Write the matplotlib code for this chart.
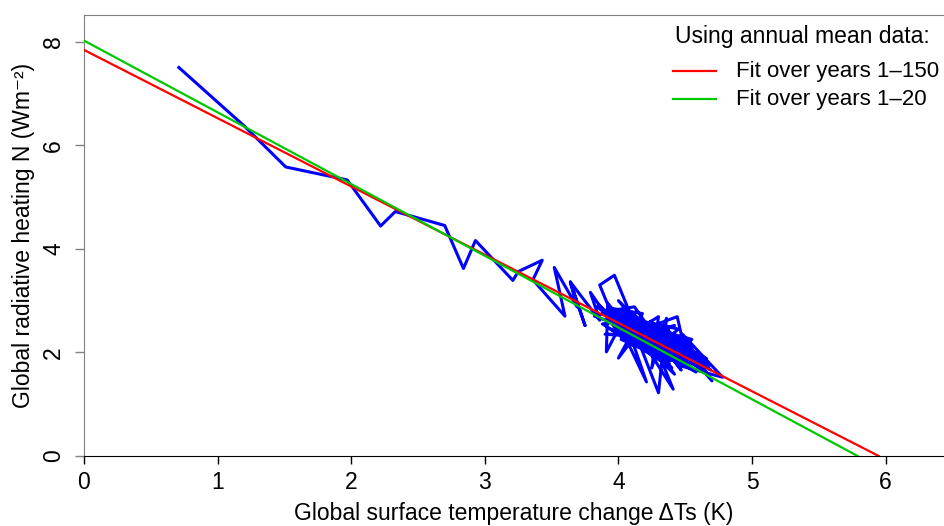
import matplotlib
matplotlib.use("Agg")
import matplotlib.pyplot as plt
from matplotlib.lines import Line2D

plt.rcParams["font.family"] = ["Liberation Sans", "DejaVu Sans"]

# annual mean (dT, N) pairs, years 1..150
temp_change = [
    0.71, 1.20, 1.51, 1.84, 1.97, 2.22, 2.33, 2.70, 2.84, 2.93,
    3.21, 3.25, 3.43, 3.36, 3.60, 3.52, 3.69, 3.64,
    3.75, 3.64, 3.86, 3.79, 4.02, 3.86, 3.97, 4.20, 3.92, 3.91,
    4.08, 3.82, 4.15, 4.00, 4.18, 3.95, 4.21, 4.05, 4.32, 3.88,
    4.12, 4.40, 4.02, 4.30, 4.25, 4.36, 4.30, 4.10, 4.41, 4.22,
    4.44, 4.52, 4.18, 4.47, 4.28, 4.06, 4.50, 4.26, 4.69, 4.40,
    4.62, 4.35, 4.70, 4.48, 4.78, 4.45, 4.15, 4.42, 3.98, 4.25,
    3.85, 4.16, 3.94, 4.38, 4.00, 4.35, 4.05, 4.55, 4.12, 4.46,
    3.96, 4.58, 4.24, 3.90, 4.33, 4.08, 4.52, 3.98, 4.28, 4.60,
    4.14, 3.88, 4.40, 4.02, 4.48, 4.20, 4.64, 4.30, 3.92, 4.42,
    4.10, 4.56, 3.84, 4.26, 4.45, 4.04, 4.60, 4.18, 4.38, 3.96,
    4.32, 4.66, 4.22, 3.94, 4.50, 4.14, 4.62, 4.34, 4.06, 4.55,
    3.90, 4.28, 4.42, 4.12, 4.58, 4.00, 4.36, 4.20, 4.54, 4.10,
    4.46, 4.24, 4.68, 4.32, 4.04, 4.50, 4.16, 4.40, 3.92, 4.26,
    4.56, 4.14, 4.48, 4.34, 4.06, 4.60, 4.24, 4.44, 4.12, 4.52,
    4.30, 4.40,
]
heating = [
    7.50, 6.37, 5.58, 5.40, 5.33, 4.44, 4.72, 4.45, 3.62, 4.16,
    3.39, 3.56, 3.78, 3.40, 2.70, 3.64, 2.88, 3.36,
    2.52, 3.36, 2.62, 3.16, 2.30, 3.30, 3.49, 2.05, 2.95, 2.01,
    2.85, 2.70, 2.40, 1.89, 2.75, 2.85, 1.43, 2.62, 2.10, 2.78,
    2.88, 1.85, 2.25, 2.69, 1.70, 2.66, 1.22, 2.55, 1.29, 2.48,
    2.69, 1.80, 2.62, 1.66, 2.30, 2.80, 2.05, 2.55, 1.66, 2.30,
    1.80, 2.48, 1.45, 2.35, 1.52, 1.75, 2.55, 1.58, 2.68, 1.95,
    2.92, 2.20, 2.45, 1.82, 3.00, 2.10, 2.32, 1.70, 2.72, 1.95,
    2.55, 1.62, 2.40, 2.72, 1.88, 2.60, 2.12, 2.40, 2.00, 1.95,
    2.65, 2.55, 1.70, 2.82, 2.20, 2.12, 1.72, 2.42, 2.62, 1.92,
    2.38, 2.02, 2.88, 2.05, 2.45, 2.68, 1.78, 2.22, 1.78, 2.58,
    2.28, 1.88, 2.50, 2.80, 1.88, 2.42, 1.68, 2.15, 2.60, 2.25,
    2.35, 2.35, 2.52, 2.32, 1.92, 2.78, 1.90, 2.48, 2.20, 2.15,
    1.80, 2.60, 1.75, 2.30, 2.52, 1.95, 2.45, 2.18, 2.70, 2.08,
    2.00, 2.50, 1.85, 2.35, 2.65, 1.88, 2.42, 2.05, 2.38, 2.15,
    2.25, 2.12,
]

# regression fits: intercept and slope of N against dT
fit_labels = ["Fit over years 1\u2013150", "Fit over years 1\u201320"]
fit_intercepts = [7.84, 8.02]
fit_slopes = [-1.318, -1.385]
fit_colors = ["#ff0000", "#00c800"]

fig = plt.figure(figsize=(9.44, 5.26), dpi=100)
ax = fig.add_axes([84 / 944, 70 / 526, 860 / 944, 441 / 526])

ax.plot(temp_change, heating, color="#0000ff", lw=2.2, zorder=2)
for b0, b1, c in zip(fit_intercepts, fit_slopes, fit_colors):
    x_end = -b0 / b1
    ax.plot([0, x_end], [b0, 0], color=c, lw=1.6, zorder=3)

ax.set_xlim(0, 6.437)
ax.set_ylim(0, 8.514)
ax.set_xticks(range(0, 7))
ax.set_yticks([0, 2, 4, 6, 8])

for s in ("left", "top"):
    ax.spines[s].set_color("#808080")
ax.spines["right"].set_visible(False)
ax.spines["bottom"].set_color("black")

FS = 16.5
ax.tick_params(axis="x", direction="out", length=6, width=1, pad=5,
               labelsize=FS, color="black")
ax.tick_params(axis="y", direction="out", length=6.5, width=1, pad=7,
               labelsize=FS, color="#808080")
for lbl in ax.get_yticklabels():
    lbl.set_rotation(90)
    lbl.set_va("center")

ax.set_xlabel("Global surface temperature change \u0394Ts (K)", fontsize=FS, labelpad=5.5)
ax.set_ylabel("Global radiative heating N (Wm\u207b\u00b2)", fontsize=FS, labelpad=5)

# legend drawn by hand (R style, no frame)
fig.text(675 / 944, 1 - 37 / 526, "Using annual mean data:", fontsize=FS,
         ha="left", va="center")
for i, (lab, c) in enumerate(zip(fit_labels, fit_colors)):
    yy = 1 - (71 + 28 * i) / 526
    fig.add_artist(Line2D([673 / 944, 716 / 944], [yy, yy], color=c, lw=1.6,
                          transform=fig.transFigure))
    fig.text(736 / 944, yy, lab, fontsize=16, ha="left", va="center")

fig.savefig("out.png", dpi=100)
